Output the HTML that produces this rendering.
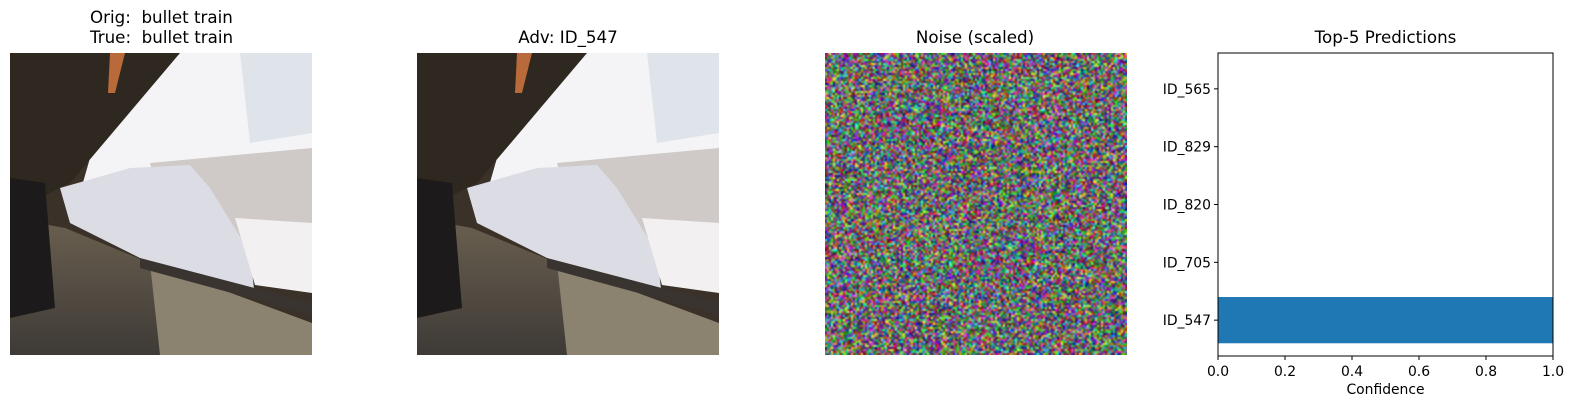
<!DOCTYPE html>
<html><head><meta charset="utf-8"><style>
body{margin:0;width:1573px;height:409px;background:#fff;position:relative;overflow:hidden;font-family:"DejaVu Sans","Liberation Sans",sans-serif;}
.t{position:absolute;font-size:16.7px;color:#000;text-align:center;white-space:nowrap;line-height:20px}
.photo{position:absolute;top:53px;width:302px;height:302px}
</style></head><body>
<svg width="0" height="0" style="position:absolute">
<defs>
<linearGradient id="floor" x1="0" y1="0" x2="0" y2="1"><stop offset="0" stop-color="#6a6050"/><stop offset="1" stop-color="#3e3a36"/></linearGradient>
<symbol id="train" viewBox="0 0 302 302">
<rect width="302" height="302" fill="#3a3128"/>
<polygon points="110,0 302,0 302,100 190,115 70,140" fill="#f4f4f6"/>
<polygon points="230,0 302,0 302,80 240,90" fill="#dfe4ea"/>
<polygon points="140,110 302,95 302,200 220,195 150,150" fill="#cfcac8"/>
<polygon points="0,0 170,0 60,130 0,160" fill="#2f2820"/>
<polygon points="50,135 120,115 180,112 200,135 240,200 245,245 150,215 60,170" fill="#dcdce4"/>
<polygon points="225,165 302,170 302,240 245,232" fill="#f2f0f0"/>
<polygon points="0,165 55,175 140,210 302,275 302,302 0,302" fill="url(#floor)"/>
<polygon points="140,210 302,270 302,302 150,302" fill="#8c8270"/>
<polygon points="0,125 35,130 45,255 0,265" fill="#1c1a1a"/>
<polygon points="130,205 302,250 302,262 130,215" fill="#3a3430"/>
<polygon points="100,0 115,0 105,40 98,40" fill="#b86a3a"/>
</symbol>
</defs>
</svg>

<div class="t" style="left:90px;top:7px;text-align:left">Orig:&nbsp; bullet train<br>True:&nbsp; bullet train</div>
<svg class="photo" style="left:10px" viewBox="0 0 302 302"><use href="#train"/></svg>

<div class="t" style="left:417px;width:302px;top:27px">Adv: ID_547</div>
<svg class="photo" style="left:417px" viewBox="0 0 302 302"><use href="#train"/></svg>

<div class="t" style="left:824px;width:302px;top:27px">Noise (scaled)</div>
<canvas id="noise" class="photo" width="151" height="151" style="left:825px;image-rendering:auto"></canvas>

<div class="t" style="left:1218px;width:335px;top:27px">Top-5 Predictions</div>
<svg id="chart" width="1573" height="409" style="position:absolute;left:0;top:0"></svg>

<script>
const categories=["ID_547","ID_705","ID_820","ID_829","ID_565"];
const values=[1.0,0.0,0.0,0.0,0.0];
const xTicks=[0,0.2,0.4,0.6,0.8,1.0];
const xTickLabels=["0.0","0.2","0.4","0.6","0.8","1.0"];

const L=1218,R=1553,T=53,B=356;
const x=v=>L+(v-0)/(1-0)*(R-L);
const yMin=-0.62,yMax=4.62;
const y=v=>B-(v-yMin)/(yMax-yMin)*(B-T);
const svg=document.getElementById('chart');
const NS='http://www.w3.org/2000/svg';
const FF='DejaVu Sans, Liberation Sans, sans-serif';
function mk(tag,attrs){const e=document.createElementNS(NS,tag);for(const k in attrs)e.setAttribute(k,attrs[k]);svg.appendChild(e);return e;}
const bh=(y(0)-y(0.8));
values.forEach((v,i)=>{
  const r=mk('rect',{x:x(0),y:y(i)-bh/2,width:x(v)-x(0),height:bh,fill:'#1f77b4'});
  
  
});
const fr=mk('rect',{x:L,y:T,width:R-L,height:B-T,fill:'none',stroke:'#000','stroke-width':1});


categories.forEach((c,i)=>{
  const tk=mk('line',{x1:L-4,x2:L,y1:y(i),y2:y(i),stroke:'#000'});
  
  
  const t=mk('text',{x:L-7,y:y(i)+5,'text-anchor':'end','font-size':'13.9','font-family':FF});
  t.textContent=c;
  
  
});
xTicks.forEach((v,i)=>{
  const tk=mk('line',{x1:x(v),x2:x(v),y1:B,y2:B+4,stroke:'#000'});
  
  
  const t=mk('text',{x:x(v),y:B+20,'text-anchor':'middle','font-size':'13.9','font-family':FF});
  t.textContent=xTickLabels[i];
  
  
});
const xl=mk('text',{x:(L+R)/2,y:B+38,'text-anchor':'middle','font-size':'13.9','font-family':FF});
xl.textContent='Confidence';



// noise texture (decorative)
const cv=document.getElementById('noise');const ctx=cv.getContext('2d');
const img=ctx.createImageData(151,151);
let s=12345;const rnd=()=>{s=(s*1103515245+12345)&0x7fffffff;return s/0x7fffffff;};
for(let i=0;i<151*151;i++){
  const h=rnd()*6,f=h%1,c=[[1,f,0],[1-f,1,0],[0,1,f],[0,1-f,1],[f,0,1],[1,0,1-f]][Math.floor(h)];
  const k=0.4+rnd()*0.6,w=rnd()*0.45;
  for(let j=0;j<3;j++)img.data[i*4+j]=Math.round(255*(c[j]*k*(1-w)+w*k));
  img.data[i*4+3]=255;
}
ctx.putImageData(img,0,0);
</script>
</body></html>
